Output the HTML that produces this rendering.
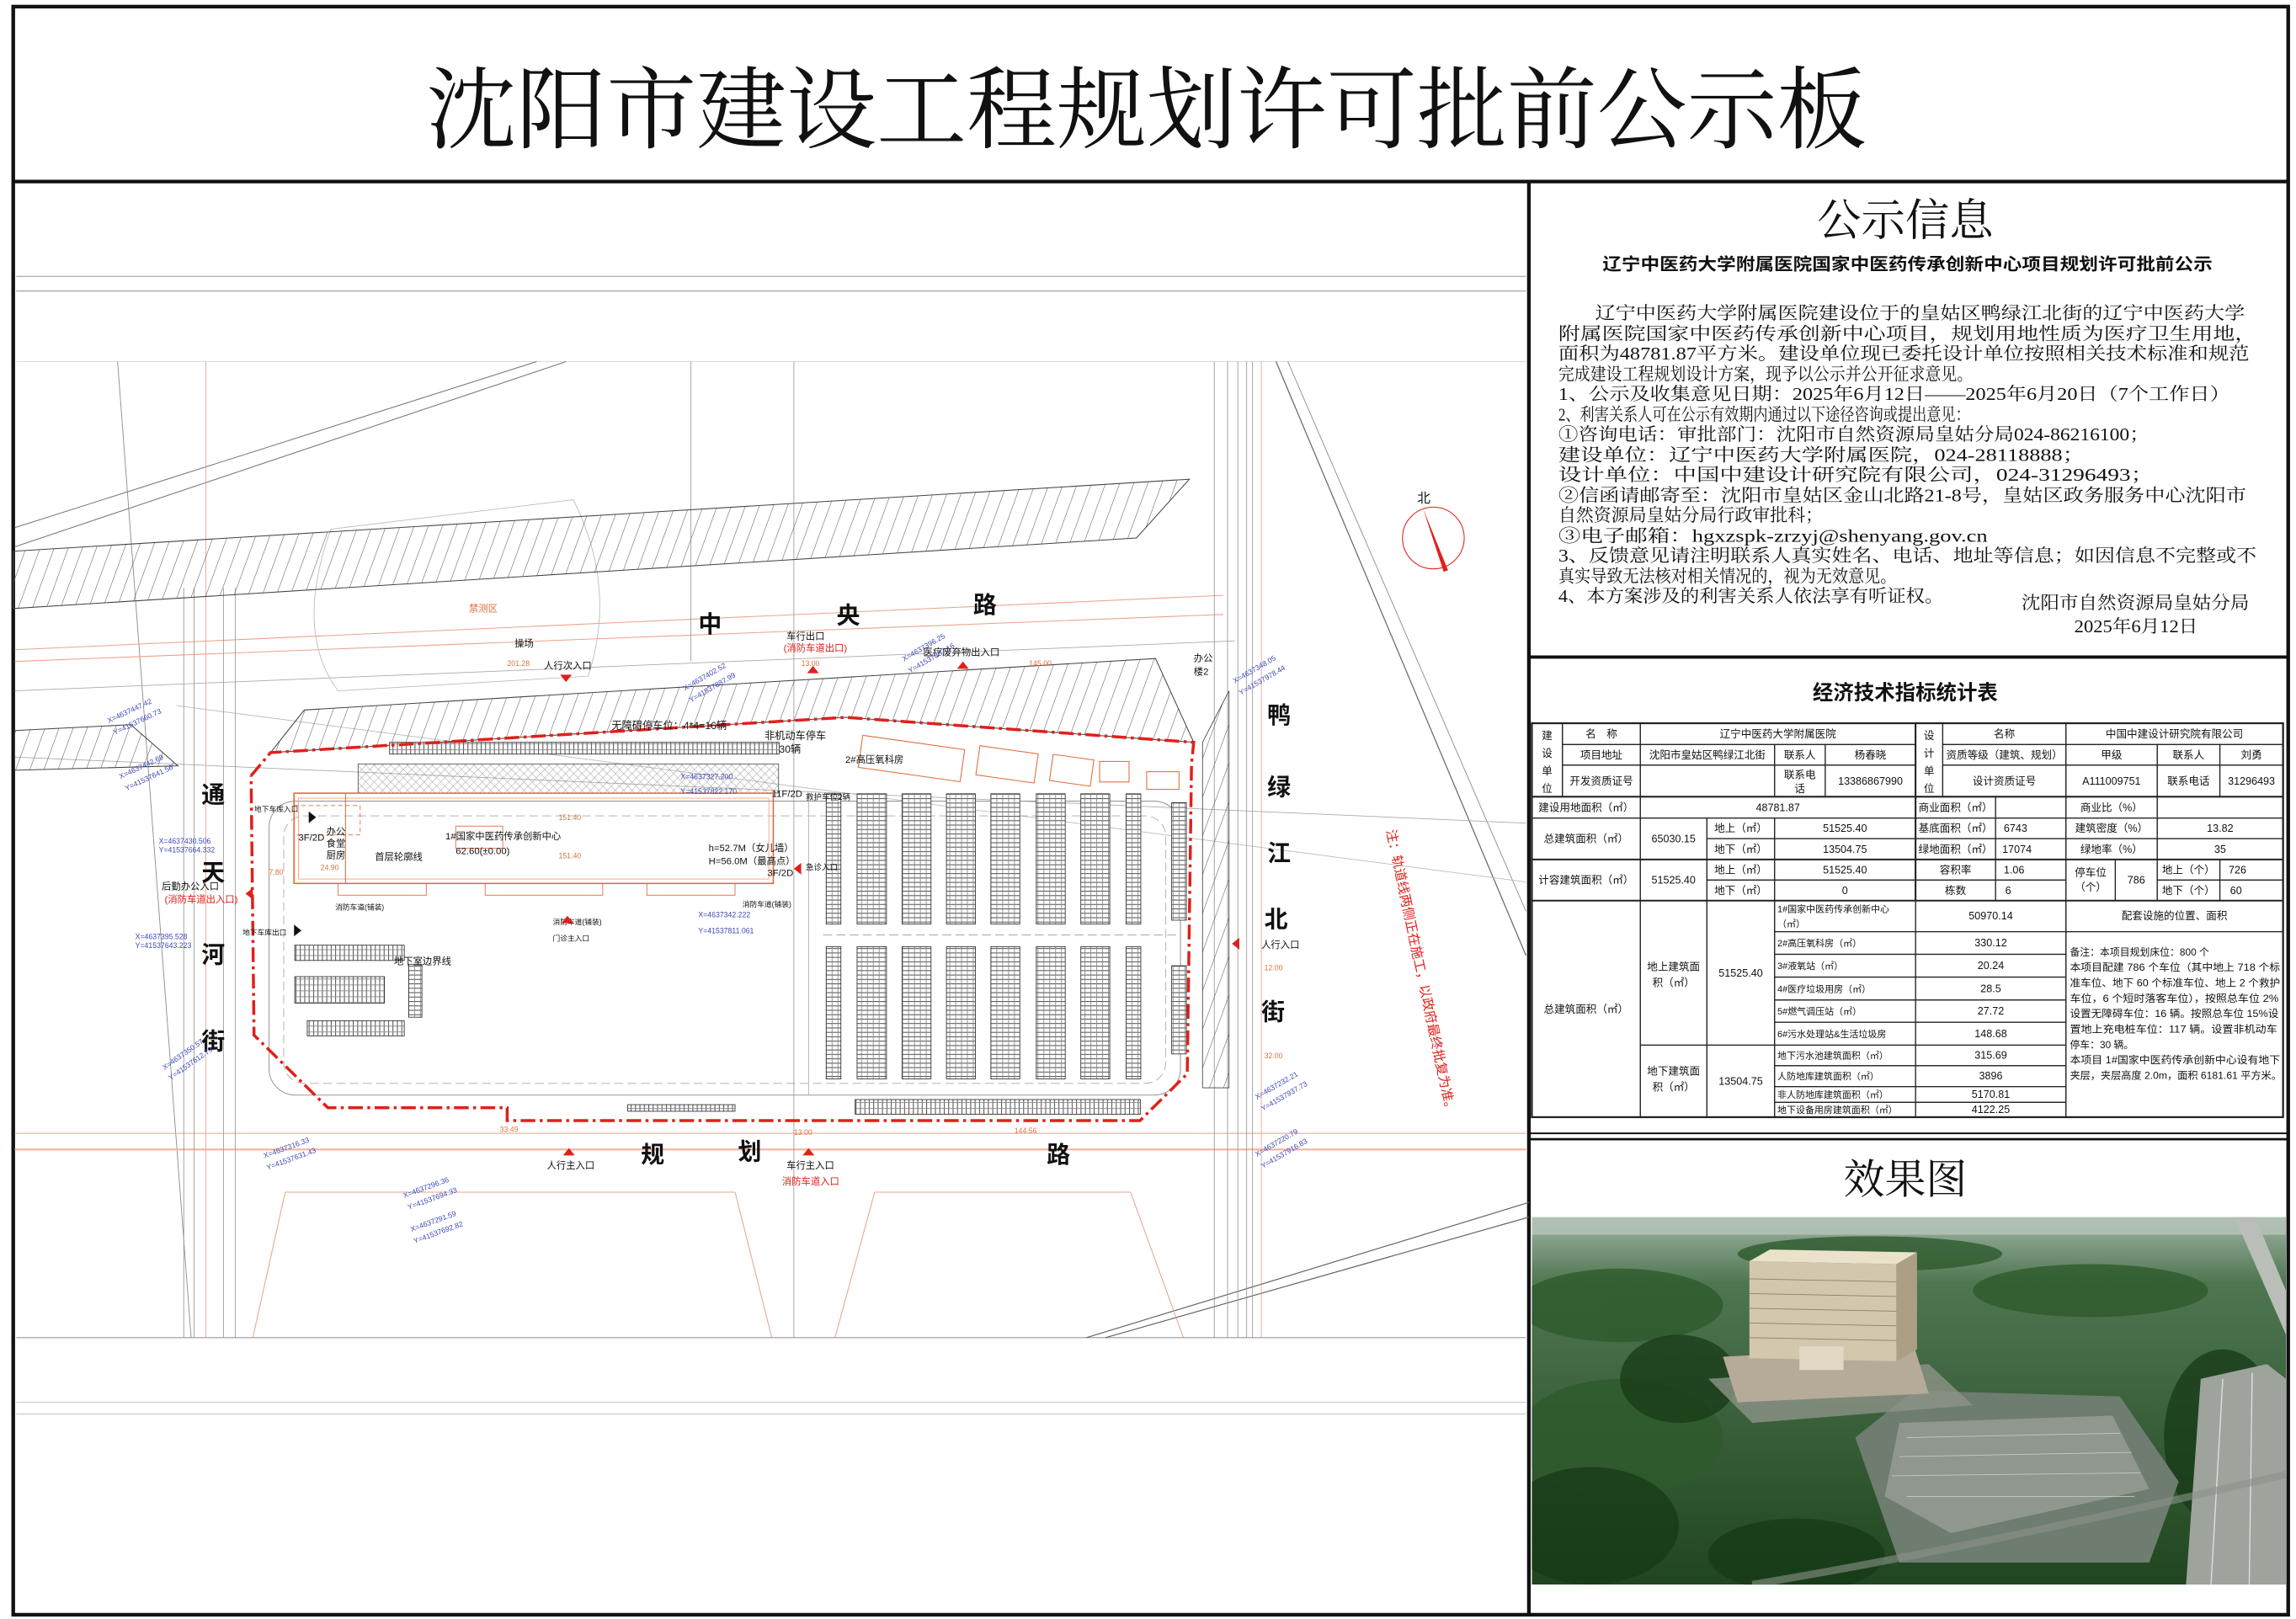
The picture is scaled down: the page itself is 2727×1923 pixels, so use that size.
<!DOCTYPE html>
<html><head><meta charset="utf-8"><style>
html,body{margin:0;padding:0;background:#fff;}
svg{display:block;}
.s{font-family:"Liberation Serif","Noto Serif CJK SC",serif;}
.h{font-family:"Liberation Sans","Noto Sans CJK SC",sans-serif;}
.t text{font-family:"Liberation Sans","Noto Sans CJK SC",sans-serif;font-size:7.2px;text-anchor:middle;fill:#111;}
.t text.l{text-anchor:start;font-size:6.3px;}
.t text.n{text-anchor:start;font-size:6.8px;}
.t rect{fill:none;stroke:#222;stroke-width:0.7;}
.m text{font-family:"Liberation Sans","Noto Sans CJK SC",sans-serif;}
</style></head><body>
<svg width="2727" height="1923" viewBox="0 0 1561.8 1101.4" preserveAspectRatio="none" xmlns="http://www.w3.org/2000/svg">
<defs>
<pattern id="hat" width="9" height="9" patternUnits="userSpaceOnUse" patternTransform="rotate(20)">
<line x1="0" y1="0" x2="0" y2="9" stroke="#555" stroke-width="0.6"/></pattern>
<pattern id="xh" width="4" height="4" patternUnits="userSpaceOnUse" patternTransform="rotate(45)">
<line x1="0" y1="0" x2="0" y2="4" stroke="#777" stroke-width="0.4"/><line x1="0" y1="0" x2="4" y2="0" stroke="#777" stroke-width="0.4"/></pattern>
<pattern id="pk" width="4" height="3" patternUnits="userSpaceOnUse">
<rect width="4" height="3" fill="#fff"/><rect x="0" y="0" width="4" height="0.6" fill="#555"/><rect x="1.8" y="0" width="0.5" height="3" fill="#888"/></pattern>
<pattern id="pkh" width="3" height="4" patternUnits="userSpaceOnUse">
<rect width="3" height="4" fill="#fff"/><rect x="0" y="0" width="0.6" height="4" fill="#555"/><rect x="0" y="1.8" width="3" height="0.5" fill="#888"/></pattern>
<linearGradient id="sky" x1="0" y1="0" x2="0" y2="1"><stop offset="0" stop-color="#9fb3a4"/><stop offset="0.18" stop-color="#4e7650"/><stop offset="1" stop-color="#20451f"/></linearGradient>
</defs>
<rect width="1561.8" height="1101.4" fill="#fff"/>
<rect x="9" y="4.5" width="1547.5" height="1094" fill="none" stroke="#111" stroke-width="2.5"/>
<line x1="9" y1="123.5" x2="1556.5" y2="123.5" stroke="#111" stroke-width="2.5"/>
<text class="s" x="290" y="96" font-size="61" textLength="980" lengthAdjust="spacingAndGlyphs" fill="#111">沈阳市建设工程规划许可批前公示板</text>
<line x1="1040" y1="123.5" x2="1040" y2="1098" stroke="#111" stroke-width="2.5"/>

<!-- ============ MAP ============ -->
<g class="m">
<line x1="11" y1="188" x2="1038" y2="188" stroke="#999" stroke-width="0.6"/>
<line x1="11" y1="198" x2="1038" y2="198" stroke="#999" stroke-width="0.6"/>
<line x1="11" y1="910" x2="1038" y2="910" stroke="#999" stroke-width="0.6"/>
<line x1="11" y1="954" x2="1038" y2="954" stroke="#bbb" stroke-width="0.5"/>
<line x1="11" y1="962" x2="1038" y2="962" stroke="#bbb" stroke-width="0.5"/>
<line x1="11" y1="246" x2="1038" y2="246" stroke="#ccc" stroke-width="0.4"/>
<line x1="10" y1="359" x2="365" y2="246" stroke="#777" stroke-width="0.6"/>
<line x1="10" y1="372" x2="385" y2="246" stroke="#777" stroke-width="0.6"/>
<line x1="868" y1="246" x2="1038" y2="650" stroke="#666" stroke-width="0.7"/>
<line x1="876" y1="246" x2="1038" y2="620" stroke="#888" stroke-width="0.5"/>
<line x1="739" y1="910" x2="1040" y2="818" stroke="#666" stroke-width="0.7"/>
<line x1="752" y1="910" x2="1040" y2="828" stroke="#666" stroke-width="0.7"/>
<line x1="80" y1="246" x2="130" y2="910" stroke="#888" stroke-width="0.5"/>
<line x1="10" y1="442" x2="832" y2="405" stroke="#e9a58a" stroke-width="0.6"/>
<line x1="10" y1="450" x2="832" y2="418" stroke="#e9a58a" stroke-width="0.6"/>
<line x1="10" y1="470" x2="840" y2="436" stroke="#aaa" stroke-width="0.5"/>
<line x1="10" y1="515" x2="1038" y2="560" stroke="#aaa" stroke-width="0.5"/>
<line x1="120" y1="480" x2="1038" y2="600" stroke="#bbb" stroke-width="0.5"/>
<line x1="10" y1="771" x2="1038" y2="771" stroke="#e9a58a" stroke-width="0.6"/>
<line x1="10" y1="782" x2="1038" y2="782" stroke="#f2b49c" stroke-width="1.2"/>
<line x1="194" y1="811" x2="500" y2="811" stroke="#e9a58a" stroke-width="0.6"/>
<line x1="595" y1="811" x2="769" y2="811" stroke="#e9a58a" stroke-width="0.6"/>
<line x1="194" y1="811" x2="172" y2="910" stroke="#e9a58a" stroke-width="0.6"/>
<line x1="500" y1="811" x2="525" y2="910" stroke="#e9a58a" stroke-width="0.6"/>
<line x1="595" y1="811" x2="568" y2="910" stroke="#e9a58a" stroke-width="0.6"/>
<line x1="769" y1="811" x2="805" y2="910" stroke="#e9a58a" stroke-width="0.6"/>
<g stroke="#999" stroke-width="0.5">
<line x1="125" y1="400" x2="125" y2="910"/><line x1="132" y1="400" x2="132" y2="910"/>
<line x1="152" y1="400" x2="152" y2="910"/><line x1="160" y1="400" x2="160" y2="910"/>
<line x1="835" y1="246" x2="835" y2="910"/><line x1="842" y1="246" x2="842" y2="910"/>
<line x1="848" y1="246" x2="848" y2="910"/><line x1="852" y1="246" x2="852" y2="910"/>
<line x1="826" y1="246" x2="826" y2="910"/>
<line x1="470" y1="246" x2="470" y2="450"/><line x1="540" y1="246" x2="540" y2="910"/>
</g>
<line x1="858" y1="246" x2="858" y2="910" stroke="#e9a58a" stroke-width="0.5"/>
<line x1="140" y1="246" x2="140" y2="910" stroke="#e9a58a" stroke-width="0.5"/>
<path d="M225,360 Q200,430 230,470 L400,460 Q420,400 390,340 Z" fill="none" stroke="#bbb" stroke-width="0.5"/>
<polygon points="9,375 809,326 773,366 9,414" fill="url(#hat)" stroke="#444" stroke-width="0.6"/>
<polygon points="207,483 786,448 812,505 575,488 184,512" fill="url(#hat)" stroke="#444" stroke-width="0.6"/>
<polygon points="10,497 89,493 121,521 10,524" fill="url(#hat)" stroke="#444" stroke-width="0.6"/>
<polygon points="818,505 836,470 836,740 818,740" fill="url(#hat)" stroke="#444" stroke-width="0.5"/>
<rect x="183" y="545" width="620" height="200" rx="18" fill="none" stroke="#999" stroke-width="0.6"/>
<rect x="193" y="555" width="600" height="182" rx="14" fill="none" stroke="#aaa" stroke-width="0.5" stroke-dasharray="6,3"/>
<line x1="550" y1="540" x2="550" y2="745" stroke="#aaa" stroke-width="0.5"/>
<line x1="560" y1="636" x2="800" y2="636" stroke="#999" stroke-width="0.5" stroke-dasharray="6,3"/>
<rect x="243.6" y="519.7" width="286" height="19.8" fill="url(#xh)" stroke="#555" stroke-width="0.5"/>
<rect x="200" y="539.6" width="326" height="61.4" fill="none" stroke="#e06a3a" stroke-width="0.9"/>
<rect x="203" y="543" width="320" height="55" fill="none" stroke="#f0a080" stroke-width="0.5"/>
<line x1="235" y1="540" x2="235" y2="601" stroke="#e06a3a" stroke-width="0.6"/>
<rect x="310" y="562" width="32" height="15" fill="none" stroke="#e06a3a" stroke-width="0.5"/>
<rect x="230" y="601" width="60" height="8" fill="none" stroke="#e06a3a" stroke-width="0.5"/>
<rect x="330" y="601" width="80" height="8" fill="none" stroke="#e06a3a" stroke-width="0.5"/>
<rect x="440" y="601" width="60" height="8" fill="none" stroke="#e06a3a" stroke-width="0.5"/>
<rect x="200" y="548" width="45" height="20" fill="none" stroke="#e06a3a" stroke-width="0.5" stroke-dasharray="3,2"/>
<rect x="585" y="505" width="70" height="22" fill="none" stroke="#e06a3a" stroke-width="0.6" transform="rotate(8 620 516)"/>
<rect x="665" y="510" width="40" height="20" fill="none" stroke="#e06a3a" stroke-width="0.6" transform="rotate(8 685 520)"/>
<rect x="715" y="515" width="28" height="18" fill="none" stroke="#e06a3a" stroke-width="0.6" transform="rotate(8 729 524)"/>
<rect x="748" y="518" width="20" height="14" fill="none" stroke="#e06a3a" stroke-width="0.6"/>
<rect x="780" y="525" width="22" height="12" fill="none" stroke="#e06a3a" stroke-width="0.6"/>
<g stroke="#333" stroke-width="0.5">
<rect x="562" y="540" width="10" height="88.6" fill="url(#pk)"/>
<rect x="583" y="540" width="20" height="88.6" fill="url(#pk)"/>
<rect x="613.6" y="540" width="19.7" height="88.6" fill="url(#pk)"/>
<rect x="643.8" y="540" width="19.7" height="88.6" fill="url(#pk)"/>
<rect x="674" y="540" width="19.7" height="88.6" fill="url(#pk)"/>
<rect x="704.9" y="540" width="19.7" height="88.6" fill="url(#pk)"/>
<rect x="735.2" y="540" width="19.7" height="88.6" fill="url(#pk)"/>
<rect x="766" y="540" width="10" height="88.6" fill="url(#pk)"/>
<rect x="797" y="546" width="10" height="80" fill="url(#pk)"/>
<rect x="562" y="644" width="10" height="90" fill="url(#pk)"/>
<rect x="583" y="644" width="20" height="90" fill="url(#pk)"/>
<rect x="613.6" y="644" width="19.7" height="90" fill="url(#pk)"/>
<rect x="643.8" y="644" width="19.7" height="90" fill="url(#pk)"/>
<rect x="674" y="644" width="19.7" height="90" fill="url(#pk)"/>
<rect x="704.9" y="644" width="19.7" height="90" fill="url(#pk)"/>
<rect x="735.2" y="644" width="19.7" height="90" fill="url(#pk)"/>
<rect x="766" y="644" width="10" height="90" fill="url(#pk)"/>
<rect x="797" y="657" width="10" height="60" fill="url(#pk)"/>
<rect x="200.5" y="643" width="74.5" height="10.4" fill="url(#pkh)"/>
<rect x="200.5" y="664.4" width="61" height="18" fill="url(#pkh)"/>
<rect x="209" y="694.4" width="66" height="10.3" fill="url(#pkh)"/>
<rect x="278" y="656" width="9" height="36" fill="url(#pk)"/>
<rect x="581.7" y="748" width="194" height="10" fill="url(#pkh)"/>
<rect x="427" y="751.5" width="73" height="4.5" fill="url(#pkh)"/>
<rect x="265" y="505" width="265" height="8" fill="url(#pkh)"/>
</g>
<polyline points="170.8,527.7 184,512 575,488 812,505 810.5,520 807.6,730.5 775.5,762.3 345,762.3 345,753.6 223,753.6 172.8,704.2 170.8,527.7" fill="none" stroke="#e0201a" stroke-width="2" stroke-dasharray="10,3,2,3"/>
<circle cx="975" cy="366" r="21" fill="none" stroke="#e0201a" stroke-width="0.6"/>
<polygon points="968,346 985,388 982,389" fill="#e0201a"/>
<text x="964" y="342" font-size="9" fill="#111">北</text>
<g font-size="16" fill="#111" font-weight="bold">
<text x="475" y="430">中</text><text x="569" y="424">央</text><text x="662" y="417">路</text>
<text x="137" y="546">通</text><text x="137" y="599">天</text><text x="137" y="655">河</text><text x="137" y="714">街</text>
<text x="862" y="492">鸭</text><text x="862" y="541">绿</text><text x="862" y="586">江</text><text x="860" y="631">北</text><text x="858" y="694">街</text>
<text x="436" y="791">规</text><text x="502" y="789">划</text><text x="712" y="791">路</text>
</g>
<g font-size="6.5" fill="#111">
<text x="350" y="440">操场</text>
<text x="370" y="455">人行次入口</text>
<text x="535" y="435">车行出口</text>
<text x="628" y="446">医疗废弃物出入口</text>
<text x="416" y="496" font-size="7">无障碍停车位：4*4=16辆</text>
<text x="520" y="503" font-size="7">非机动车停车</text>
<text x="530" y="512" font-size="7">30辆</text>
<text x="575" y="519">2#高压氧科房</text>
<text x="303" y="571">1#国家中医药传承创新中心</text>
<text x="310" y="581">62.60(±0.00)</text>
<text x="482" y="579">h=52.7M（女儿墙）</text>
<text x="482" y="588">H=56.0M（最高点）</text>
<text x="255" y="585">首层轮廓线</text>
<text x="222" y="568">办公</text><text x="222" y="576">食堂</text><text x="222" y="584">厨房</text>
<text x="203" y="572">3F/2D</text>
<text x="110" y="605">后勤办公入口</text>
<text x="173" y="552" font-size="5">地下车库入口</text>
<text x="165" y="636" font-size="5">地下车库出口</text>
<text x="268" y="656">地下室边界线</text>
<text x="228" y="619" font-size="5">消防车道(铺装)</text>
<text x="376" y="629" font-size="5">消防车道(铺装)</text>
<text x="505" y="617" font-size="5">消防车道(铺装)</text>
<text x="376" y="640" font-size="5">门诊主入口</text>
<text x="548" y="592" font-size="5.5">急诊入口</text>
<text x="548" y="544" font-size="5.5">救护车位2辆</text>
<text x="372" y="795">人行主入口</text>
<text x="535" y="795">车行主入口</text>
<text x="858" y="645">人行入口</text>
<text x="812" y="450">办公</text><text x="812" y="459">楼2</text>
<text x="525" y="542">11F/2D</text>
<text x="522" y="596">3F/2D</text>
</g>
<g font-size="6.5" fill="#e0201a">
<text x="319" y="416" fill="#e07040">禁测区</text>
<text x="533" y="443">(消防车道出口)</text>
<text x="112" y="614">(消防车道出入口)</text>
<text x="532" y="806">消防车道入口</text>
</g>
<g fill="#e0201a">
<polygon points="381,459 389,459 385,464"/>
<polygon points="549,458 557,458 553,453"/>
<polygon points="651,455 659,455 655,450"/>
<polygon points="382,628 390,628 386,623"/>
<polygon points="383,786 391,786 387,781"/>
<polygon points="546,786 554,786 550,781"/>
<polygon points="545,587 545,595 540,591"/>
<polygon points="843,638 843,646 838,642"/>
<polygon points="172,604 172,612 167,608"/>
</g>
<polygon points="210,552 210,560 215,556" fill="#111"/>
<polygon points="200,629 200,637 205,633" fill="#111"/>
<text x="0" y="0" font-size="9" fill="#e0201a" transform="translate(943,565) rotate(78)">注：轨道线两侧正在施工，以政府最终批复为准。</text>
<g font-size="5" fill="#3a48b8">
<text x="74" y="492" transform="rotate(-25 74 492)">X=4637447.42</text>
<text x="78" y="500" transform="rotate(-25 78 500)">Y=41537660.73</text>
<text x="82" y="530" transform="rotate(-25 82 530)">X=4637442.69</text>
<text x="86" y="538" transform="rotate(-25 86 538)">Y=41537641.56</text>
<text x="108" y="574">X=4637430.506</text><text x="108" y="580">Y=41537664.332</text>
<text x="92" y="639">X=4637395.528</text><text x="92" y="645">Y=41537643.223</text>
<text x="112" y="728" transform="rotate(-35 112 728)">X=4637350.57</text>
<text x="116" y="735" transform="rotate(-35 116 735)">Y=41537612.79</text>
<text x="180" y="788" transform="rotate(-20 180 788)">X=4637316.33</text>
<text x="182" y="796" transform="rotate(-20 182 796)">Y=41537631.43</text>
<text x="275" y="815" transform="rotate(-20 275 815)">X=4637296.36</text>
<text x="278" y="823" transform="rotate(-20 278 823)">Y=41537694.33</text>
<text x="280" y="838" transform="rotate(-20 280 838)">X=4637291.59</text>
<text x="282" y="846" transform="rotate(-20 282 846)">Y=41537692.82</text>
<text x="466" y="470" transform="rotate(-30 466 470)">X=4637402.52</text>
<text x="470" y="478" transform="rotate(-30 470 478)">Y=41537887.99</text>
<text x="615" y="450" transform="rotate(-30 615 450)">X=4637396.25</text>
<text x="619" y="458" transform="rotate(-30 619 458)">Y=41537857.16</text>
<text x="463" y="530">X=4637327.200</text><text x="463" y="540">Y=41537822.170</text>
<text x="475" y="624">X=4637342.222</text><text x="475" y="635">Y=41537811.061</text>
<text x="840" y="465" transform="rotate(-30 840 465)">X=4637348.05</text>
<text x="844" y="473" transform="rotate(-30 844 473)">Y=41537978.44</text>
<text x="855" y="748" transform="rotate(-30 855 748)">X=4637232.21</text>
<text x="859" y="756" transform="rotate(-30 859 756)">Y=41537937.73</text>
<text x="855" y="787" transform="rotate(-30 855 787)">X=4637220.79</text>
<text x="859" y="795" transform="rotate(-30 859 795)">Y=41537916.83</text>
</g>
<g font-size="5" fill="#e07040">
<text x="345" y="453">201.28</text><text x="545" y="453">13.00</text><text x="700" y="453">145.00</text>
<text x="540" y="772">13.00</text><text x="690" y="771">144.56</text><text x="340" y="770">33.49</text>
<text x="380" y="584">151.40</text><text x="380" y="558">151.40</text><text x="183" y="595">7.80</text>
<text x="218" y="592">24.90</text><text x="860" y="660">12.00</text><text x="860" y="720">32.00</text>
</g>
</g>

<!-- ============ INFO ============ -->
<text class="s" x="1296" y="160" font-size="30" text-anchor="middle" fill="#111">公示信息</text>
<text class="h" x="1090" y="183.5" font-size="11.5" font-weight="bold" textLength="415" lengthAdjust="spacingAndGlyphs" fill="#111">辽宁中医药大学附属医院国家中医药传承创新中心项目规划许可批前公示</text>
<g class="s" font-size="12" fill="#111">
<text x="1085" y="217" textLength="442" lengthAdjust="spacingAndGlyphs">辽宁中医药大学附属医院建设位于的皇姑区鸭绿江北街的辽宁中医药大学</text>
<text x="1060" y="231" textLength="475" lengthAdjust="spacingAndGlyphs">附属医院国家中医药传承创新中心项目，规划用地性质为医疗卫生用地，</text>
<text x="1060" y="244.5" textLength="470" lengthAdjust="spacingAndGlyphs">面积为48781.87平方米。建设单位现已委托设计单位按照相关技术标准和规范</text>
<text x="1060" y="258.5" textLength="282" lengthAdjust="spacingAndGlyphs">完成建设工程规划设计方案，现予以公示并公开征求意见。</text>
<text x="1060" y="272" textLength="457" lengthAdjust="spacingAndGlyphs">1、公示及收集意见日期：2025年6月12日——2025年6月20日（7个工作日）</text>
<text x="1060" y="286" textLength="280" lengthAdjust="spacingAndGlyphs">2、利害关系人可在公示有效期内通过以下途径咨询或提出意见：</text>
<text x="1060" y="299.5" textLength="402" lengthAdjust="spacingAndGlyphs">①咨询电话：审批部门：沈阳市自然资源局皇姑分局024-86216100；</text>
<text x="1060" y="313.5" textLength="358" lengthAdjust="spacingAndGlyphs">建设单位：辽宁中医药大学附属医院，024-28118888；</text>
<text x="1060" y="327" textLength="405" lengthAdjust="spacingAndGlyphs">设计单位：中国中建设计研究院有限公司，024-31296493；</text>
<text x="1060" y="341" textLength="468" lengthAdjust="spacingAndGlyphs">②信函请邮寄至：沈阳市皇姑区金山北路21-8号，皇姑区政务服务中心沈阳市</text>
<text x="1060" y="354.5" textLength="180" lengthAdjust="spacingAndGlyphs">自然资源局皇姑分局行政审批科；</text>
<text x="1060" y="368.5" textLength="292" lengthAdjust="spacingAndGlyphs">③电子邮箱：hgxzspk-zrzyj@shenyang.gov.cn</text>
<text x="1060" y="382" textLength="475" lengthAdjust="spacingAndGlyphs">3、反馈意见请注明联系人真实姓名、电话、地址等信息；如因信息不完整或不</text>
<text x="1060" y="396" textLength="230" lengthAdjust="spacingAndGlyphs">真实导致无法核对相关情况的，视为无效意见。</text>
<text x="1060" y="409.5" textLength="262" lengthAdjust="spacingAndGlyphs">4、本方案涉及的利害关系人依法享有听证权。</text>
<text x="1375" y="414" textLength="155" lengthAdjust="spacingAndGlyphs">沈阳市自然资源局皇姑分局</text>
<text x="1411" y="430" textLength="84" lengthAdjust="spacingAndGlyphs">2025年6月12日</text>
</g>
<line x1="1040" y1="447" x2="1556.5" y2="447" stroke="#111" stroke-width="2.2"/>

<!-- ============ TABLE ============ -->
<text class="h" x="1296" y="476" font-size="14" font-weight="bold" text-anchor="middle" fill="#111">经济技术指标统计表</text>
<g class="t">
<rect x="1042" y="492" width="511" height="268" style="stroke-width:1.3"/>
<line x1="1042" y1="542" x2="1553" y2="542" stroke="#222" stroke-width="1.2"/>
<line x1="1042" y1="584.7" x2="1553" y2="584.7" stroke="#222" stroke-width="1.2"/>
<line x1="1042" y1="612.7" x2="1553" y2="612.7" stroke="#222" stroke-width="1.2"/>
<line x1="1303" y1="492" x2="1303" y2="612.7" stroke="#222" stroke-width="1.2"/>

<rect x="1042" y="492" width="20.8" height="50"/>
<text x="1052.4" y="503">建</text><text x="1052.4" y="515">设</text><text x="1052.4" y="527">单</text><text x="1052.4" y="539">位</text>
<rect x="1062.8" y="492" width="53" height="14.5"/><text x="1089.3" y="501.8">名　称</text>
<rect x="1115.8" y="492" width="187.2" height="14.5"/><text x="1209.4" y="501.8">辽宁中医药大学附属医院</text>
<rect x="1062.8" y="506.5" width="53" height="14"/><text x="1089.3" y="516">项目地址</text>
<rect x="1115.8" y="506.5" width="91.3" height="14"/><text x="1161.4" y="516">沈阳市皇姑区鸭绿江北街</text>
<rect x="1207.1" y="506.5" width="34.5" height="14"/><text x="1224.3" y="516">联系人</text>
<rect x="1241.6" y="506.5" width="61.4" height="14"/><text x="1272.3" y="516">杨春晓</text>
<rect x="1062.8" y="520.5" width="53" height="21.5"/><text x="1089.3" y="533.8">开发资质证号</text>
<rect x="1115.8" y="520.5" width="91.3" height="21.5"/>
<rect x="1207.1" y="520.5" width="34.5" height="21.5"/><text x="1224.3" y="529.5">联系电</text><text x="1224.3" y="539">话</text>
<rect x="1241.6" y="520.5" width="61.4" height="21.5"/><text x="1272.3" y="533.8">13386867990</text>
<rect x="1303" y="492" width="18.5" height="50"/>
<text x="1312.2" y="503">设</text><text x="1312.2" y="515">计</text><text x="1312.2" y="527">单</text><text x="1312.2" y="539">位</text>
<rect x="1321.5" y="492" width="83.8" height="14.5"/><text x="1363.4" y="501.8">名称</text>
<rect x="1405.3" y="492" width="147.7" height="14.5"/><text x="1479.1" y="501.8">中国中建设计研究院有限公司</text>
<rect x="1321.5" y="506.5" width="83.8" height="14"/><text x="1363.4" y="516">资质等级（建筑、规划）</text>
<rect x="1405.3" y="506.5" width="62.1" height="14"/><text x="1436.3" y="516">甲级</text>
<rect x="1467.4" y="506.5" width="42.6" height="14"/><text x="1488.7" y="516">联系人</text>
<rect x="1510" y="506.5" width="43" height="14"/><text x="1531.5" y="516">刘勇</text>
<rect x="1321.5" y="520.5" width="83.8" height="21.5"/><text x="1363.4" y="533.8">设计资质证号</text>
<rect x="1405.3" y="520.5" width="62.1" height="21.5"/><text x="1436.3" y="533.8">A111009751</text>
<rect x="1467.4" y="520.5" width="42.6" height="21.5"/><text x="1488.7" y="533.8">联系电话</text>
<rect x="1510" y="520.5" width="43" height="21.5"/><text x="1531.5" y="533.8">31296493</text>

<rect x="1042" y="542" width="73.8" height="14.5"/><text x="1078.9" y="551.8">建设用地面积（㎡）</text>
<rect x="1115.8" y="542" width="187.2" height="14.5"/><text x="1209.4" y="551.8">48781.87</text>
<rect x="1303" y="542" width="54.4" height="14.5"/><text x="1330.2" y="551.8">商业面积（㎡）</text>
<rect x="1357.4" y="542" width="47.9" height="14.5"/>
<rect x="1405.3" y="542" width="62.1" height="14.5"/><text x="1436.3" y="551.8">商业比（%）</text>
<rect x="1467.4" y="542" width="85.6" height="14.5"/>

<rect x="1042" y="556.5" width="73.8" height="28.2"/><text x="1078.9" y="573">总建筑面积（㎡）</text>
<rect x="1115.8" y="556.5" width="45.3" height="28.2"/><text x="1138.4" y="573">65030.15</text>
<rect x="1161.1" y="556.5" width="46" height="14"/><text x="1184.1" y="566" fill="#777">地上（㎡）</text>
<rect x="1207.1" y="556.5" width="95.9" height="14"/><text x="1255" y="566">51525.40</text>
<rect x="1303" y="556.5" width="54.4" height="14"/><text x="1330.2" y="566">基底面积（㎡）</text>
<rect x="1357.4" y="556.5" width="47.9" height="14"/><text x="1371" y="566">6743</text>
<rect x="1405.3" y="556.5" width="62.1" height="14"/><text x="1436.3" y="566">建筑密度（%）</text>
<rect x="1467.4" y="556.5" width="85.6" height="14"/><text x="1510.2" y="566">13.82</text>
<rect x="1161.1" y="570.5" width="46" height="14.2"/><text x="1184.1" y="580.2" fill="#777">地下（㎡）</text>
<rect x="1207.1" y="570.5" width="95.9" height="14.2"/><text x="1255" y="580.2">13504.75</text>
<rect x="1303" y="570.5" width="54.4" height="14.2"/><text x="1330.2" y="580.2">绿地面积（㎡）</text>
<rect x="1357.4" y="570.5" width="47.9" height="14.2"/><text x="1372" y="580.2">17074</text>
<rect x="1405.3" y="570.5" width="62.1" height="14.2"/><text x="1436.3" y="580.2">绿地率（%）</text>
<rect x="1467.4" y="570.5" width="85.6" height="14.2"/><text x="1510.2" y="580.2">35</text>

<rect x="1042" y="584.7" width="73.8" height="28"/><text x="1078.9" y="601.2">计容建筑面积（㎡）</text>
<rect x="1115.8" y="584.7" width="45.3" height="28"/><text x="1138.4" y="601.2">51525.40</text>
<rect x="1161.1" y="584.7" width="46" height="14"/><text x="1184.1" y="594.2" fill="#777">地上（㎡）</text>
<rect x="1207.1" y="584.7" width="95.9" height="14"/><text x="1255" y="594.2">51525.40</text>
<rect x="1303" y="584.7" width="54.4" height="14"/><text x="1330.2" y="594.2">容积率</text>
<rect x="1357.4" y="584.7" width="47.9" height="14"/><text x="1370" y="594.2">1.06</text>
<rect x="1405.3" y="584.7" width="33.6" height="28"/><text x="1422.1" y="596">停车位</text><text x="1422.1" y="606">（个）</text>
<rect x="1438.9" y="584.7" width="28.5" height="28"/><text x="1453.1" y="601.2">786</text>
<rect x="1467.4" y="584.7" width="42.6" height="14"/><text x="1488.7" y="594.2" fill="#777">地上（个）</text>
<rect x="1510" y="584.7" width="43" height="14"/><text x="1522" y="594.2">726</text>
<rect x="1161.1" y="598.7" width="46" height="14"/><text x="1184.1" y="608.2" fill="#777">地下（㎡）</text>
<rect x="1207.1" y="598.7" width="95.9" height="14"/><text x="1255" y="608.2">0</text>
<rect x="1303" y="598.7" width="54.4" height="14"/><text x="1330.2" y="608.2">栋数</text>
<rect x="1357.4" y="598.7" width="47.9" height="14"/><text x="1366" y="608.2">6</text>
<rect x="1467.4" y="598.7" width="42.6" height="14"/><text x="1488.7" y="608.2" fill="#777">地下（个）</text>
<rect x="1510" y="598.7" width="43" height="14"/><text x="1521" y="608.2">60</text>

<rect x="1042" y="612.7" width="73.8" height="147.3"/><text x="1078.9" y="689">总建筑面积（㎡）</text>
<rect x="1115.8" y="612.7" width="45.3" height="98.3"/><text x="1138.4" y="660">地上建筑面</text><text x="1138.4" y="671">积（㎡）</text>
<rect x="1161.1" y="612.7" width="46" height="98.3"/><text x="1184.1" y="664.5">51525.40</text>
<rect x="1115.8" y="711" width="45.3" height="49"/><text x="1138.4" y="731">地下建筑面</text><text x="1138.4" y="742">积（㎡）</text>
<rect x="1161.1" y="711" width="46" height="49"/><text x="1184.1" y="738">13504.75</text>
<rect x="1207.1" y="612.7" width="95.9" height="21.1"/><rect x="1303" y="612.7" width="102.3" height="21.1"/>
<rect x="1207.1" y="633.8" width="95.9" height="15.4"/><rect x="1303" y="633.8" width="102.3" height="15.4"/>
<rect x="1207.1" y="649.2" width="95.9" height="15.5"/><rect x="1303" y="649.2" width="102.3" height="15.5"/>
<rect x="1207.1" y="664.7" width="95.9" height="15.6"/><rect x="1303" y="664.7" width="102.3" height="15.6"/>
<rect x="1207.1" y="680.3" width="95.9" height="15.1"/><rect x="1303" y="680.3" width="102.3" height="15.1"/>
<rect x="1207.1" y="695.4" width="95.9" height="15.6"/><rect x="1303" y="695.4" width="102.3" height="15.6"/>
<rect x="1207.1" y="711" width="95.9" height="14"/><rect x="1303" y="711" width="102.3" height="14"/>
<rect x="1207.1" y="725" width="95.9" height="14.2"/><rect x="1303" y="725" width="102.3" height="14.2"/>
<rect x="1207.1" y="739.2" width="95.9" height="10.7"/><rect x="1303" y="739.2" width="102.3" height="10.7"/>
<rect x="1207.1" y="749.9" width="95.9" height="10.1"/><rect x="1303" y="749.9" width="102.3" height="10.1"/>
<rect x="1405.3" y="612.7" width="147.7" height="21.1"/><text x="1479.1" y="625.5">配套设施的位置、面积</text>
<rect x="1405.3" y="633.8" width="147.7" height="126.2"/>
<text class="l" x="1209" y="620.5">1#国家中医药传承创新中心</text><text class="l" x="1209" y="630.5">（㎡）</text>
<text class="l" x="1209" y="643.8">2#高压氧科房（㎡）</text>
<text class="l" x="1209" y="659.3">3#液氧站（㎡）</text>
<text class="l" x="1209" y="674.9">4#医疗垃圾用房（㎡）</text>
<text class="l" x="1209" y="690.2">5#燃气调压站（㎡）</text>
<text class="l" x="1209" y="705.5">6#污水处理站&amp;生活垃圾房</text>
<text class="l" x="1209" y="720.3">地下污水池建筑面积（㎡）</text>
<text class="l" x="1209" y="734.4">人防地库建筑面积（㎡）</text>
<text class="l" x="1209" y="746.8">非人防地库建筑面积（㎡）</text>
<text class="l" x="1209" y="757.3">地下设备用房建筑面积（㎡）</text>
<text x="1354.2" y="625.5">50970.14</text>
<text x="1354.2" y="643.8">330.12</text>
<text x="1354.2" y="659.3">20.24</text>
<text x="1354.2" y="674.9">28.5</text>
<text x="1354.2" y="690.2">27.72</text>
<text x="1354.2" y="705.5">148.68</text>
<text x="1354.2" y="720.3">315.69</text>
<text x="1354.2" y="734.4">3896</text>
<text x="1354.2" y="746.8">5170.81</text>
<text x="1354.2" y="757.3">4122.25</text>
<text class="n" x="1408" y="650">备注：本项目规划床位：800 个</text>
<text class="n" x="1408" y="660.5" textLength="143" lengthAdjust="spacingAndGlyphs">本项目配建 786 个车位（其中地上 718 个标</text>
<text class="n" x="1408" y="671" textLength="143" lengthAdjust="spacingAndGlyphs">准车位、地下 60 个标准车位、地上 2 个救护</text>
<text class="n" x="1408" y="681.5" textLength="142" lengthAdjust="spacingAndGlyphs">车位，6 个短时落客车位），按照总车位 2%</text>
<text class="n" x="1408" y="692" textLength="142" lengthAdjust="spacingAndGlyphs">设置无障碍车位：16 辆。按照总车位 15%设</text>
<text class="n" x="1408" y="702.5" textLength="141" lengthAdjust="spacingAndGlyphs">置地上充电桩车位：117 辆。设置非机动车</text>
<text class="n" x="1408" y="713">停车：30 辆。</text>
<text class="n" x="1408" y="723.5" textLength="143" lengthAdjust="spacingAndGlyphs">本项目 1#国家中医药传承创新中心设有地下</text>
<text class="n" x="1408" y="734" textLength="144" lengthAdjust="spacingAndGlyphs">夹层，夹层高度 2.0m，面积 6181.61 平方米。</text>
</g>
<line x1="1040" y1="771" x2="1556.5" y2="771" stroke="#111" stroke-width="1.2"/>
<line x1="1040" y1="775" x2="1556.5" y2="775" stroke="#111" stroke-width="1.6"/>

<!-- ============ EFFECT ============ -->
<text class="s" x="1296" y="812" font-size="28" text-anchor="middle" fill="#111">效果图</text>
<svg x="1042" y="828" width="513" height="250" viewBox="0 0 513 250" preserveAspectRatio="none">
<rect width="513" height="250" fill="url(#sky)"/>
<rect width="513" height="12" fill="#b6c4b9" opacity="0.8"/>
<g fill="#2e5a2c" opacity="0.8">
<ellipse cx="60" cy="60" rx="70" ry="25"/><ellipse cx="60" cy="150" rx="70" ry="40"/><ellipse cx="380" cy="50" rx="80" ry="18"/>
<ellipse cx="230" cy="25" rx="90" ry="12"/>
</g>
<g fill="#173a16" opacity="0.75">
<ellipse cx="40" cy="210" rx="60" ry="40"/><ellipse cx="100" cy="110" rx="40" ry="30"/><ellipse cx="470" cy="150" rx="40" ry="60"/><ellipse cx="180" cy="230" rx="60" ry="25"/>
</g>
<polygon points="478,0 492,0 513,50 513,80" fill="#b9beb8"/>
<polygon points="455,110 500,100 513,110 513,250 445,250" fill="#9ea39c"/>
<line x1="470" y1="110" x2="462" y2="250" stroke="#ddd" stroke-width="0.8"/>
<line x1="490" y1="106" x2="488" y2="250" stroke="#ddd" stroke-width="0.8"/>
<polygon points="220,150 260,118 400,122 440,180 420,235 250,235" fill="#6f7c70"/>
<polygon points="250,140 395,135 420,185 285,215 240,190" fill="#8f978e"/>
<g stroke="#c8cac2" stroke-width="0.5">
<line x1="255" y1="150" x2="400" y2="147"/><line x1="250" y1="163" x2="408" y2="160"/><line x1="245" y1="176" x2="414" y2="174"/><line x1="255" y1="190" x2="410" y2="190"/>
</g>
<polygon points="120,110 270,100 300,128 150,140" fill="#8d9488" opacity="0.8"/>
<polygon points="130,95 260,88 270,120 140,126" fill="#b5ab98"/>
<polygon points="148,30 248,32 248,98 148,96" fill="#d3c7ad"/>
<polygon points="148,30 162,22 262,24 248,32" fill="#ebe2cc"/>
<polygon points="248,32 262,24 262,90 248,98" fill="#ad9f86"/>
<g stroke="#8d8070" stroke-width="0.5">
<line x1="148" y1="42" x2="248" y2="44"/><line x1="148" y1="52" x2="248" y2="54"/><line x1="148" y1="62" x2="248" y2="64"/><line x1="148" y1="72" x2="248" y2="74"/><line x1="148" y1="82" x2="248" y2="84"/>
</g>
<rect x="182" y="88" width="30" height="16" fill="#e2d9c4"/>
<path d="M150,250 Q300,225 513,175" stroke="#8a938a" stroke-width="5" fill="none" opacity="0.6"/>
</svg>
</svg>
</body></html>
